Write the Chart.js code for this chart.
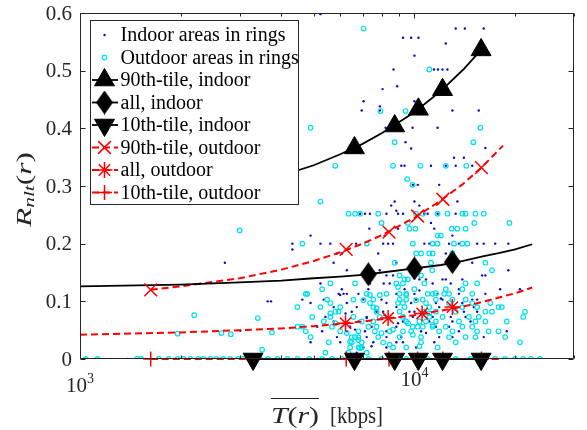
<!DOCTYPE html>
<html>
<head>
<meta charset="utf-8">
<script src="https://cdn.jsdelivr.net/npm/chart.js@4.4.1/dist/chart.umd.min.js"></script>
<style>
  html, body { margin: 0; padding: 0; background: #fff; }
  canvas { display: block; }
</style>
</head>
<body>
<canvas id="chart" width="587" height="430"></canvas>
<script>
// ---- axes ----
const xMajorTicks = [1000, 10000];
const xMajorExponents = ['3', '4'];
const xMinorTicks = [2000, 3000, 4000, 5000, 6000, 7000, 8000, 9000, 20000, 30000];
const yTicks = [0, 0.1, 0.2, 0.3, 0.4, 0.5, 0.6];
const yTickLabels = ['0', '0.1', '0.2', '0.3', '0.4', '0.5', '0.6'];

// ---- per-ring samples [mean throughput kbps, R_nlt] ----
const indoorRings = [
  [5236, 0.598], [13286, 0.573], [14150, 0.573], [16111, 0.573],
  [9242, 0.557], [9777, 0.557], [10280, 0.557], [10000, 0.526], [12411, 0.547],
  [8660, 0.502], [11440, 0.502], [11760, 0.502], [12130, 0.502], [12550, 0.502],
  [8030, 0.468], [8880, 0.473], [7050, 0.447], [10000, 0.447],
  [6956, 0.431], [7880, 0.438], [7880, 0.431], [12990, 0.431], [15571, 0.431],
  [8200, 0.401], [9870, 0.401], [11728, 0.401], [9406, 0.376], [9777, 0.365],
  [13132, 0.349], [14058, 0.349], [16298, 0.366],
  [9136, 0.335], [9342, 0.335], [11205, 0.335], [12411, 0.335], [13286, 0.335], [14887, 0.335],
  [9892, 0.302], [10235, 0.302], [11858, 0.302],
  [13440, 0.273], [8727, 0.273], [8520, 0.266], [10000, 0.273], [10347, 0.266], [8830, 0.257],
  [6876, 0.252], [7115, 0.252], [7362, 0.252], [8247, 0.252], [8932, 0.252], [9242, 0.252],
  [10705, 0.252], [10955, 0.252], [11728, 0.252], [13286, 0.252],
  [11205, 0.236], [7331, 0.226], [8932, 0.226], [11461, 0.226],
  [4891, 0.214], [8151, 0.214], [12990, 0.214],
  [4317, 0.2], [5236, 0.2], [5604, 0.2], [6690, 0.2], [8063, 0.2], [8343, 0.2], [8630, 0.2],
  [10705, 0.2], [11077, 0.2], [12694, 0.2], [13587, 0.2], [15403, 0.2], [16111, 0.2],
  [17438, 0.2], [19094, 0.2], [4317, 0.19],
  [6068, 0.183], [12411, 0.183], [5865, 0.183], [7793, 0.183],
  [5735, 0.167], [8830, 0.167], [14887, 0.167], [2711, 0.167],
  [6279, 0.154], [7878, 0.154], [10235, 0.154], [19094, 0.154],
  [8247, 0.145], [8630, 0.145], [15938, 0.145], [16298, 0.145],
  [10347, 0.138], [10830, 0.138], [12134, 0.138], [12411, 0.138], [13906, 0.138],
  [5236, 0.131], [7362, 0.131], [8096, 0.131], [8433, 0.131], [11335, 0.131], [12841, 0.131],
  [6068, 0.121], [7281, 0.121], [9342, 0.121], [13587, 0.121], [18043, 0.121], [20680, 0.121],
  [10347, 0.119],
  [5934, 0.113], [6140, 0.113], [6279, 0.113], [6800, 0.113], [8830, 0.113], [10000, 0.113],
  [11728, 0.113], [13587, 0.113], [16298, 0.113], [5999, 0.111], [11995, 0.105],
  [4622, 0.103], [5358, 0.103], [7036, 0.103], [7970, 0.103], [10116, 0.103], [12134, 0.103],
  [14887, 0.103], [15403, 0.103], [3641, 0.100], [3724, 0.100],
  [4891, 0.097], [6279, 0.097], [8247, 0.097], [9777, 0.097], [11593, 0.097], [13906, 0.097],
  [5735, 0.090], [6722, 0.090], [8830, 0.090], [11858, 0.090], [15049, 0.090],
  [6496, 0.082], [7704, 0.082], [8063, 0.082], [10000, 0.082], [10830, 0.082], [14058, 0.082], [15403, 0.082],
  [6223, 0.079], [9665, 0.082], [8151, 0.076],
  [5417, 0.073], [7197, 0.073], [8247, 0.073], [9892, 0.073], [11335, 0.073], [12841, 0.073], [14223, 0.073],
  [7197, 0.071],
  [5735, 0.065], [6800, 0.065], [9242, 0.065], [11077, 0.065], [12990, 0.065], [14717, 0.065],
  [8932, 0.062],
  [5120, 0.056], [6422, 0.056], [7446, 0.056], [8830, 0.056], [11593, 0.056], [12694, 0.056],
  [6645, 0.051], [3015, 0.049],
  [5297, 0.048], [6279, 0.048], [7115, 0.048], [8247, 0.048], [10467, 0.048], [13587, 0.048], [18884, 0.048],
  [10830, 0.045],
  [5865, 0.038], [7197, 0.038], [8247, 0.038], [9136, 0.038], [11858, 0.038], [12990, 0.038], [16111, 0.038],
  [4891, 0.029], [5999, 0.029], [7533, 0.029], [8830, 0.029], [9242, 0.029], [11461, 0.029],
  [7446, 0.022],
  [7036, 0.020], [8247, 0.020], [10116, 0.020], [6722, 0.011],
  [1040, 0], [1054, 0], [1128, 0], [1384, 0], [1906, 0], [2387, 0], [2626, 0], [2928, 0],
  [3519, 0], [4317, 0], [5120, 0], [5865, 0], [7446, 0], [9136, 0], [11593, 0], [14223, 0]
];

const outdoorRings = [
  [7050, 0.573], [4891, 0.401], [15751, 0.401], [11077, 0.502], [9406, 0.43], [7916, 0.43],
  [8727, 0.376], [15000, 0.376],
  [5798, 0.335], [8630, 0.335], [10420, 0.335], [12411, 0.335], [14290, 0.335],
  [9515, 0.312], [9870, 0.302], [5236, 0.273], [3003, 0.223],
  [6353, 0.252], [6645, 0.252], [6876, 0.252], [7793, 0.252], [10116, 0.252], [10590, 0.252],
  [11728, 0.252], [12555, 0.252], [13906, 0.252], [14223, 0.252], [15223, 0.252], [16111, 0.252],
  [7970, 0.236], [9561, 0.236], [15100, 0.236], [19223, 0.236],
  [9665, 0.226], [10069, 0.226], [12930, 0.226], [13440, 0.226], [14223, 0.226],
  [11728, 0.214], [11995, 0.214],
  [4622, 0.2], [7197, 0.2], [9892, 0.2], [11335, 0.2], [11728, 0.2], [13132, 0.2], [13906, 0.2], [14388, 0.2],
  [10116, 0.183], [10467, 0.183], [11077, 0.183], [11335, 0.183], [12990, 0.183],
  [8727, 0.167], [11205, 0.167], [13132, 0.167], [16298, 0.167],
  [11300, 0.154], [17061, 0.154], [9030, 0.145], [10467, 0.145], [9342, 0.138], [9561, 0.138],
  [5604, 0.131], [6645, 0.131], [8830, 0.131], [9242, 0.131], [10705, 0.131], [14223, 0.131], [15403, 0.131],
  [8932, 0.125],
  [5297, 0.121], [10000, 0.121], [12411, 0.121], [13906, 0.121],
  [4732, 0.113], [4782, 0.113], [7197, 0.113], [8247, 0.113], [9030, 0.113], [9450, 0.113],
  [10955, 0.113], [11335, 0.113], [12269, 0.113], [12694, 0.113], [14887, 0.113],
  [7362, 0.111], [7878, 0.111], [9450, 0.111], [11593, 0.114],
  [5480, 0.103], [6573, 0.103], [7533, 0.103], [9030, 0.103], [9450, 0.103], [10590, 0.103],
  [11593, 0.103], [12990, 0.103], [14223, 0.103], [7036, 0.102], [10116, 0.102],
  [5604, 0.097], [7362, 0.097], [8932, 0.097], [10830, 0.097], [12694, 0.097], [14887, 0.097], [16862, 0.097],
  [9242, 0.097],
  [4467, 0.090], [5236, 0.090], [5999, 0.090], [7533, 0.090], [9342, 0.090], [11077, 0.090],
  [13906, 0.090], [15403, 0.090], [17836, 0.090], [18252, 0.090], [7704, 0.088],
  [5798, 0.082], [5934, 0.082], [7704, 0.082], [9030, 0.082], [10705, 0.082], [11593, 0.082],
  [13286, 0.082], [16298, 0.082], [17061, 0.082], [21397, 0.082],
  [5604, 0.079], [11077, 0.079], [2195, 0.076],
  [4948, 0.073], [5604, 0.073], [6573, 0.073], [7878, 0.073], [9242, 0.073], [11077, 0.073],
  [12134, 0.073], [14545, 0.073], [15571, 0.073], [21147, 0.073],
  [3402, 0.071],
  [5358, 0.065], [6956, 0.065], [7533, 0.065], [9450, 0.065], [10347, 0.065], [11593, 0.065],
  [13587, 0.065], [15223, 0.065], [16298, 0.065], [18884, 0.065], [10830, 0.065],
  [5798, 0.062], [9561, 0.062], [11335, 0.059],
  [4467, 0.056], [4622, 0.056], [5669, 0.056], [7281, 0.056], [7704, 0.056], [9892, 0.056],
  [10235, 0.056], [10590, 0.056], [11335, 0.056], [12411, 0.056], [14887, 0.056], [13906, 0.056],
  [8630, 0.051],
  [4732, 0.048], [5999, 0.048], [6800, 0.048], [7616, 0.048], [8433, 0.048], [9242, 0.048],
  [9777, 0.048], [11858, 0.048], [12990, 0.048], [15403, 0.048], [16669, 0.048], [17836, 0.048],
  [6279, 0.045], [7970, 0.045], [9892, 0.042],
  [1959, 0.044], [2649, 0.045], [2824, 0.043], [3750, 0.046],
  [4891, 0.038], [6496, 0.038], [6645, 0.038], [6800, 0.038], [7793, 0.038], [9030, 0.038],
  [10467, 0.038], [12694, 0.038], [14223, 0.038], [15223, 0.038], [18668, 0.038],
  [6800, 0.033], [6422, 0.030],
  [5544, 0.029], [6496, 0.029], [6956, 0.029], [8063, 0.029], [10467, 0.029], [13286, 0.029], [20680, 0.029],
  [8433, 0.025], [10347, 0.022],
  [6422, 0.020], [6800, 0.020], [6956, 0.020], [8630, 0.020], [9450, 0.020], [11728, 0.020],
  [6876, 0.019],
  [3503, 0.016], [5417, 0.011], [6353, 0.011], [7197, 0.011],
  [1040, 0], [1128, 0], [1482, 0], [1522, 0], [1721, 0], [1842, 0], [1959, 0], [2041, 0],
  [2141, 0], [2260, 0], [2339, 0], [2453, 0], [2555, 0], [2680, 0], [2811, 0], [2968, 0],
  [3071, 0], [3177, 0], [3449, 0], [3641, 0], [3898, 0], [4173, 0], [4467, 0], [4848, 0],
  [5297, 0], [5669, 0], [6068, 0], [6722, 0], [7281, 0], [7970, 0], [8727, 0], [9450, 0],
  [10116, 0], [10955, 0], [11995, 0], [13286, 0], [14717, 0], [16298, 0], [17438, 0],
  [18668, 0], [19988, 0], [21147, 0], [22288, 0], [23712, 0]
];

// ---- per-bin statistics ----
const indoorBinX = [3292, 6618, 8727, 10275, 12134, 15827];
const indoorP90 = [0.305, 0.366, 0.404, 0.433, 0.467, 0.536];
const indoorP10 = [0, 0, 0, 0, 0, 0];
const indoorAllX = [7281, 10000, 12990];
const indoorAll = [0.147, 0.157, 0.168];

const outdoorBinX = [1627, 6251, 8395, 10221, 12159, 15862];
const outdoorP90 = [0.120, 0.190, 0.220, 0.248, 0.277, 0.332];
const outdoorP10 = [0, 0, 0, 0, 0, 0];
const outdoorAllX = [6223, 8343, 10540, 12990];
const outdoorAll = [0.062, 0.071, 0.079, 0.090];

// ---- fitted trends ----
const allFitX = [1000, 2000, 3000, 4000, 5000, 6000, 7000, 8000, 10000, 12000, 14000, 16000, 18000, 20000, 22500];
const indoorAllFit = [0.126, 0.129, 0.133, 0.136, 0.140, 0.143, 0.146, 0.150, 0.157, 0.163, 0.170, 0.178, 0.184, 0.190, 0.199];
const outdoorAllFit = [0.042, 0.046, 0.050, 0.053, 0.057, 0.061, 0.065, 0.069, 0.076, 0.084, 0.091, 0.099, 0.107, 0.114, 0.124];
const indoorP90FitX = [3292, 4000, 5000, 6000, 7000, 8000, 10000, 12000, 14000, 15827];
const indoorP90Fit = [0.305, 0.318, 0.336, 0.355, 0.373, 0.392, 0.428, 0.465, 0.502, 0.536];
const outdoorP90FitX = [1627, 2000, 3000, 4000, 5000, 6000, 7000, 8000, 10000, 12000, 14000, 16000, 18400];
const outdoorP90Fit = [0.120, 0.126, 0.140, 0.155, 0.170, 0.185, 0.200, 0.215, 0.245, 0.275, 0.304, 0.334, 0.370];
const indoorP10FitX = [3292, 15827];
const indoorP10Fit = [0, 0];
const outdoorP10FitX = [1627, 18400];
const outdoorP10Fit = [0, 0];

const BLUE = 'rgb(10,10,195)';
const CYAN = 'rgb(0,225,235)';
const RED = '#ff0000';
const BLACK = '#000000';
const AXIS = '#262626';
const SERIF = '"Liberation Serif", "Times New Roman", serif';

const zip = (xs, ys) => xs.map((x, i) => ({x: x, y: ys[i]}));
const pairs = (arr) => arr.map(([x, y]) => ({x: x, y: y}));

// MATLAB-style tall diamond
function diamondImage(w, h) {
    const c = document.createElement('canvas');
    c.width = w;
    c.height = h;
    const g = c.getContext('2d');
    g.fillStyle = BLACK;
    g.beginPath();
    g.moveTo(w / 2, 0);
    g.lineTo(w, h / 2);
    g.lineTo(w / 2, h);
    g.lineTo(0, h / 2);
    g.closePath();
    g.fill();
    return c;
}
const diamond = diamondImage(17, 24);

const markers = (data, style, radius, color, extra) => Object.assign({
    data: data,
    showLine: false,
    pointStyle: style,
    pointRadius: radius,
    pointBackgroundColor: color,
    pointBorderColor: color,
    pointBorderWidth: 1,
    pointRotation: 0,
    clip: false,
    order: 1,
}, extra || {});

const trend = (data, color, width, dash) => ({
    data: data,
    showLine: true,
    fill: false,
    tension: 0,
    pointRadius: 0,
    borderColor: color,
    borderWidth: width,
    borderDash: dash,
    clip: false,
    order: 10,
});

const dsIndoorPts = {
    data: pairs(indoorRings), showLine: false, pointStyle: 'circle', pointRadius: 1.2,
    pointBackgroundColor: BLUE, pointBorderColor: BLUE, pointBorderWidth: 0, order: 21,
};
const dsOutdoorPts = {
    data: pairs(outdoorRings), showLine: false, pointStyle: 'circle', pointRadius: 2.3,
    pointBackgroundColor: 'rgba(255,255,255,0)', pointBorderColor: CYAN, pointBorderWidth: 1.2, order: 20,
};
const dsIndoorP90 = markers(zip(indoorBinX, indoorP90), 'triangle', 11.5, BLACK);
const dsIndoorAll = markers(zip(indoorAllX, indoorAll), diamond, 12, BLACK);
const dsIndoorP10 = markers(zip(indoorBinX, indoorP10), 'triangle', 11.5, BLACK, {pointRotation: 180});
const dsOutdoorP90 = markers(zip(outdoorBinX, outdoorP90), 'crossRot', 9, RED, {pointBorderWidth: 1.5});
const dsOutdoorAll = markers(zip(outdoorAllX, outdoorAll), 'star', 8, RED, {pointBorderWidth: 1.5});
const dsOutdoorP10 = markers(zip(outdoorBinX, outdoorP10), 'cross', 7.5, RED, {pointBorderWidth: 1.5});

const lnIndoorP90 = trend(zip(indoorP90FitX, indoorP90Fit), BLACK, 1.8, []);
const lnIndoorAll = trend(zip(allFitX, indoorAllFit), BLACK, 1.8, []);
const lnIndoorP10 = trend(zip(indoorP10FitX, indoorP10Fit), BLACK, 1.8, []);
const lnOutdoorP90 = trend(zip(outdoorP90FitX, outdoorP90Fit), RED, 2, [7, 4]);
const lnOutdoorAll = trend(zip(allFitX, outdoorAllFit), RED, 2, [7, 4]);
const lnOutdoorP10 = trend(zip(outdoorP10FitX, outdoorP10Fit), RED, 2, [7, 4]);

const legendEntries = [
    {text: 'Indoor areas in rings', marker: dsIndoorPts},
    {text: 'Outdoor areas in rings', marker: dsOutdoorPts},
    {text: '90th-tile, indoor', marker: dsIndoorP90, line: lnIndoorP90},
    {text: 'all, indoor', marker: dsIndoorAll, line: lnIndoorAll},
    {text: '10th-tile, indoor', marker: dsIndoorP10, line: lnIndoorP10},
    {text: '90th-tile, outdoor', marker: dsOutdoorP90, line: lnOutdoorP90},
    {text: 'all, outdoor', marker: dsOutdoorAll, line: lnOutdoorAll},
    {text: '10th-tile, outdoor', marker: dsOutdoorP10, line: lnOutdoorP10},
];

// draw a run of differently styled text pieces, squeezed/stretched to a width
function drawRuns(ctx, runs, x, y, width) {
    let total = 0;
    runs.forEach(r => {
        ctx.font = r.font;
        r.w = ctx.measureText(r.text).width;
        total += r.w;
    });
    const sx = width ? width / total : 1;
    ctx.save();
    ctx.translate(x, y);
    ctx.scale(sx, 1);
    let cx = 0;
    runs.forEach(r => {
        ctx.font = r.font;
        ctx.fillText(r.text, cx, r.dy || 0);
        cx += r.w;
    });
    ctx.restore();
}

const matlabAxes = {
    id: 'matlabAxes',
    afterDatasetsDraw(chart) {
        const {ctx, chartArea: a} = chart;
        const xs = chart.scales.x;
        const ys = chart.scales.y;
        const L = Math.round(a.left) + 0.5, R = Math.round(a.right) - 0.5;
        const T = Math.round(a.top) + 0.5, B = Math.round(a.bottom) - 0.5;

        ctx.save();
        ctx.strokeStyle = AXIS;
        ctx.lineWidth = 1;
        ctx.beginPath();
        ctx.rect(L, T, R - L, B - T);
        yTicks.forEach(v => {
            const py = Math.round(ys.getPixelForValue(v)) + 0.5;
            ctx.moveTo(L, py); ctx.lineTo(L + 5, py);
            ctx.moveTo(R, py); ctx.lineTo(R - 5, py);
        });
        xMajorTicks.forEach(v => {
            const px = Math.round(xs.getPixelForValue(v)) + 0.5;
            ctx.moveTo(px, B); ctx.lineTo(px, B - 5);
            ctx.moveTo(px, T); ctx.lineTo(px, T + 5);
        });
        xMinorTicks.forEach(v => {
            const px = Math.round(xs.getPixelForValue(v)) + 0.5;
            ctx.moveTo(px, B); ctx.lineTo(px, B - 3);
            ctx.moveTo(px, T); ctx.lineTo(px, T + 3);
        });
        ctx.stroke();

        // tick labels
        ctx.fillStyle = AXIS;
        ctx.font = '21px ' + SERIF;
        ctx.textAlign = 'right';
        ctx.textBaseline = 'middle';
        yTicks.forEach((v, i) => {
            ctx.fillText(yTickLabels[i], a.left - 8, ys.getPixelForValue(v) + 1);
        });
        ctx.textAlign = 'left';
        ctx.textBaseline = 'alphabetic';
        const xLabelBaseline = [392, 386];
        xMajorTicks.forEach((v, i) => {
            ctx.font = '21px ' + SERIF;
            const wb = ctx.measureText('10').width;
            ctx.font = '14px ' + SERIF;
            const we = ctx.measureText(xMajorExponents[i]).width;
            const x0 = xs.getPixelForValue(v) - (wb + we) / 2;
            ctx.font = '21px ' + SERIF;
            ctx.fillText('10', x0, xLabelBaseline[i]);
            ctx.font = '14px ' + SERIF;
            ctx.fillText(xMajorExponents[i], x0 + wb, xLabelBaseline[i] - 9);
        });

        // x axis title: overline T(r) [kbps]
        ctx.fillStyle = AXIS;
        const it = 'italic 24px ' + SERIF, up = '24px ' + SERIF;
        drawRuns(ctx, [{text: 'T', font: it}, {text: '(', font: up}, {text: 'r', font: it}, {text: ')', font: up}], 271, 423, 48);
        drawRuns(ctx, [{text: '[kbps]', font: up}], 330, 423, 53);
        ctx.strokeStyle = AXIS;
        ctx.lineWidth = 1.1;
        ctx.beginPath();
        ctx.moveTo(271, 398.5);
        ctx.lineTo(319, 398.5);
        ctx.stroke();

        // y axis title: R_nlt(r)
        const yit = 'italic 22px ' + SERIF, yup = '22px ' + SERIF;
        ctx.save();
        ctx.translate(31, 227);
        ctx.rotate(-Math.PI / 2);
        drawRuns(ctx, [
            {text: 'R', font: yit},
            {text: 'nlt', font: 'italic 15px ' + SERIF, dy: 3},
            {text: '(', font: yup}, {text: 'r', font: yit}, {text: ')', font: yup},
        ], 0, 0, 75);
        ctx.restore();

        // legend
        const box = {left: 90.5, top: 20.5, right: 298.5, bottom: 204.5};
        ctx.fillStyle = '#ffffff';
        ctx.fillRect(box.left, box.top, box.right - box.left, box.bottom - box.top);
        ctx.strokeStyle = AXIS;
        ctx.lineWidth = 1;
        ctx.strokeRect(box.left, box.top, box.right - box.left, box.bottom - box.top);

        const mx = 104.5;
        legendEntries.forEach((e, i) => {
            const cy = 35 + i * 22.5;
            if (e.line) {
                ctx.save();
                ctx.strokeStyle = e.line.borderColor;
                ctx.lineWidth = e.line.borderWidth;
                ctx.setLineDash(e.line.borderDash || []);
                ctx.beginPath();
                ctx.moveTo(92, cy);
                ctx.lineTo(118, cy);
                ctx.stroke();
                ctx.restore();
            }
            const m = e.marker;
            ctx.save();
            ctx.fillStyle = m.pointBackgroundColor;
            ctx.strokeStyle = m.pointBorderColor;
            ctx.lineWidth = m.pointBorderWidth;
            Chart.helpers.drawPoint(ctx, {
                pointStyle: m.pointStyle,
                radius: m.pointRadius,
                rotation: m.pointRotation || 0,
                borderWidth: m.pointBorderWidth,
            }, mx, cy);
            ctx.restore();

            ctx.fillStyle = BLACK;
            ctx.font = '20px ' + SERIF;
            ctx.textAlign = 'left';
            ctx.textBaseline = 'middle';
            ctx.fillText(e.text, 120.5, cy + 1);
        });
        ctx.restore();
    }
};

new Chart(document.getElementById('chart'), {
    type: 'scatter',
    data: {
        datasets: [
            dsIndoorP90, dsIndoorAll, dsIndoorP10, dsOutdoorP90, dsOutdoorAll, dsOutdoorP10,
            lnIndoorP90, lnIndoorAll, lnIndoorP10, lnOutdoorP90, lnOutdoorAll, lnOutdoorP10,
            dsIndoorPts, dsOutdoorPts,
        ],
    },
    options: {
        responsive: false,
        animation: false,
        events: [],
        layout: {
            padding: {left: 80, top: 11, right: 6, bottom: 71},
        },
        scales: {
            x: {
                type: 'logarithmic',
                min: 1000,
                max: 30000,
                display: false,
            },
            y: {
                type: 'linear',
                min: 0,
                max: 0.6,
                display: false,
            },
        },
        plugins: {
            legend: {display: false},
            tooltip: {enabled: false},
        },
    },
    plugins: [matlabAxes],
});
</script>
</body>
</html>
